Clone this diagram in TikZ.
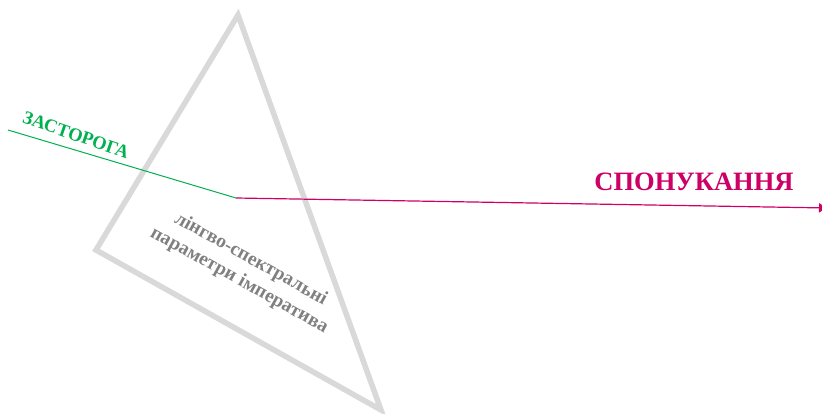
\documentclass[tikz,border=0pt]{standalone}
\usepackage{fontspec}
\setmainfont{Liberation Serif}
\usetikzlibrary{arrows.meta}
\definecolor{zgreen}{RGB}{0,176,80}
\definecolor{spmag}{RGB}{204,0,102}
\definecolor{trigray}{RGB}{217,217,217}
\definecolor{txtgray}{RGB}{128,128,128}
\tikzset{
  label text/.style={font=\bfseries, inner sep=0pt},
}
\begin{document}
\begin{tikzpicture}[x=1pt, y=-1pt]
    \useasboundingbox (0,0) rectangle (822,414);
    % Triangulo
    \draw[trigray, line width=5.5pt, line join=miter] (238,15) -- (96,250) -- (381,410) -- cycle;
    % Lineas
    \coordinate (z0) at (8,130);
    \coordinate (j) at (236,198);
    \coordinate (s1) at (828,208);
    \draw[zgreen, line width=1pt] (z0) -- (j);
    \draw[spmag, line width=1.2pt, -{Latex[length=9pt, width=10pt]}] (j) -- (s1);
    % Textos
    \node[label text, text=zgreen, font=\bfseries\fontsize{18.5}{20}\selectfont, rotate=-19] (zast) at (76,135) {ЗАСТОРОГА};
    \node[label text, text=spmag, font=\bfseries\fontsize{26.5}{30}\selectfont] (spon) at (694,182) {СПОНУКАННЯ};
    \node[label text, text=txtgray, font=\bfseries\fontsize{19.5}{24}\selectfont, rotate=-29, align=center] (param) at (245,270) {лінгво-спектральні\\параметри імператива};
\end{tikzpicture}
\end{document}
